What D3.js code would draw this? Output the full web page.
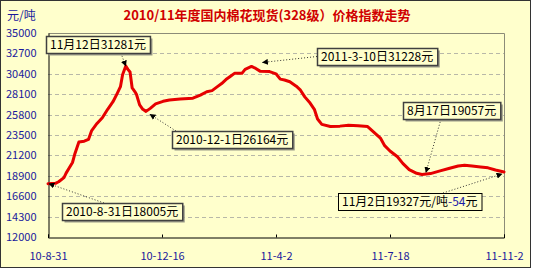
<!DOCTYPE html>
<html>
<head>
<meta charset="utf-8">
<script src="https://cdn.jsdelivr.net/npm/d3@7"></script>
<style>
  body { margin: 0; background: #fff; }
  svg text { font-family: "Noto Sans CJK SC", "DejaVu Sans", sans-serif; }
</style>
</head>
<body>
<div id="chart"></div>
<script>
// cotton spot price index 328, yuan/ton
var dates = ["2010-08-31","2010-09-07","2010-09-10","2010-09-15","2010-09-17","2010-09-20","2010-09-23",
             "2010-09-25","2010-09-27","2010-09-29","2010-10-04","2010-10-08","2010-10-11","2010-10-16",
             "2010-10-21","2010-10-26","2010-10-31","2010-11-04","2010-11-07","2010-11-09","2010-11-12",
             "2010-11-14","2010-11-16","2010-11-18","2010-11-21","2010-11-22","2010-11-25","2010-11-28",
             "2010-12-01","2010-12-05","2010-12-10","2010-12-17","2010-12-23","2011-01-02","2011-01-14",
             "2011-01-21","2011-01-27","2011-02-01","2011-02-06","2011-02-10","2011-02-14","2011-02-18",
             "2011-02-22","2011-03-01","2011-03-04","2011-03-10","2011-03-14","2011-03-18","2011-03-27",
             "2011-04-02","2011-04-06","2011-04-10","2011-04-15","2011-04-21","2011-04-25","2011-04-29",
             "2011-05-04","2011-05-08","2011-05-11","2011-05-15","2011-05-23","2011-06-01","2011-06-09",
             "2011-06-18","2011-06-27","2011-07-03","2011-07-09","2011-07-13","2011-07-18","2011-07-25",
             "2011-07-30","2011-08-05","2011-08-12","2011-08-17","2011-08-25","2011-09-03","2011-09-12",
             "2011-09-20","2011-09-26","2011-10-03","2011-10-11","2011-10-18","2011-10-25","2011-11-02"]

var prices = [18005,18050,18230,18700,19200,19800,20400,
              21300,22000,22700,22800,23000,24000,24800,
              25450,26400,27250,28200,28950,30300,31281,
              30900,30600,28800,28300,28100,26900,26400,
              26164,26500,27000,27300,27450,27550,27650,
              28000,28380,28500,28950,29300,29750,30100,
              30450,30450,30900,31228,31000,30700,30650,
              30400,29800,29700,29500,29000,28550,27800,
              27100,26400,25300,24700,24450,24500,24600,
              24550,24450,23800,23150,22300,21700,21050,
              20300,19600,19180,19057,19150,19450,19750,
              20000,20100,20000,19900,19800,19550,19327]

var yTicks      = [12000,14300,16600,18900,21200,23500,25800,28100,30400,32700,35000]
var xTickDates  = ["2010-08-31","2010-12-16","2011-04-02","2011-07-18","2011-11-02"]
var xTickLabels = ["10-8-31","10-12-16","11-4-2","11-7-18","11-11-2"]

var title = "2010/11年度国内棉花现货(328级）价格指数走势",
    unit  = "元/吨"

// callouts: which point, the text, and where the box sits (px)
var notes = [
  { date: "2010-11-12", parts: [["11月12日31281元","#000"]], box: [46, 36], dx: 0, dy: 0, shadow: true },
  { date: "2011-03-10", parts: [["2011-3-10日31228元","#000"]], box: [317, 48], dx: 11, dy: -4, shadow: true },
  { date: "2010-12-01", parts: [["2010-12-1日26164元","#000"]], box: [172, 131], dx: 4, dy: 3, shadow: true },
  { date: "2010-08-31", parts: [["2010-8-31日18005元","#000"]], box: [62, 203], dx: 1, dy: 0, shadow: true },
  { date: "2011-08-17", parts: [["8月17日19057元","#000"]], box: [403, 102], dx: 4, dy: -2, shadow: true },
  { date: "2011-11-02", parts: [["11月2日19327元/吨","#000"],["-54","#1a1aa8"],["元","#000"]], box: [338, 193], dx: -2, dy: 2, shadow: false }
]

var W = 537, H = 271,
    plot = {left: 48, right: 504, top: 33, bottom: 237},
    bg = "#ffffcc",
    blue = "#1a1a9c"

var parse = d3.timeParse("%Y-%m-%d")
var data = dates.map((d, i) => ({ date: parse(d), value: prices[i] }))

var svg = d3.select("#chart").append("svg")
  .attr("width", W)
  .attr("height", H)

svg.append("rect")
  .attr("x", 0.5).attr("y", 0.5)
  .attr("width", W - 7).attr("height", H - 4)
  .attr("fill", bg)
  .attr("stroke", "#333")

var x = d3.scaleTime()
  .domain([parse(xTickDates[0]), parse(xTickDates[xTickDates.length - 1])])
  .range([plot.left, plot.right])

var y = d3.scaleLinear()
  .domain([yTicks[0], yTicks[yTicks.length - 1]])
  .range([plot.bottom, plot.top])

// grid
svg.append("g")
  .selectAll("line")
  .data(yTicks.slice(1, -1))
  .join("line")
    .attr("x1", plot.left).attr("x2", plot.right)
    .attr("y1", d => Math.round(y(d)) + 0.5).attr("y2", d => Math.round(y(d)) + 0.5)
    .attr("stroke", "#b8b8a8")
    .attr("stroke-dasharray", "4,3")

// top / right frame
svg.append("path")
  .attr("d", "M" + (plot.left + 0.5) + "," + (plot.top + 0.5) + "H" + (plot.right + 0.5) + "V" + (plot.bottom + 0.5))
  .attr("fill", "none")
  .attr("stroke", "#8c8c78")

var yAxis = svg.append("g")
  .attr("transform", "translate(" + (plot.left + 0.5) + ",0)")
  .call(d3.axisLeft(y).tickValues(yTicks).tickSize(0).tickPadding(12).tickFormat(d => d))
yAxis.select(".domain").attr("stroke", "#000")
yAxis.selectAll("text").attr("fill", blue).style("font-size", "11px")

var xAxis = svg.append("g")
  .attr("transform", "translate(0," + (plot.bottom + 0.5) + ")")
  .call(d3.axisBottom(x).tickValues(xTickDates.map(parse)).tickSize(-3).tickPadding(15)
    .tickFormat((d, i) => xTickLabels[i]))
xAxis.select(".domain").attr("stroke", "#000")
xAxis.selectAll("line").attr("stroke", "#000")
xAxis.selectAll("text").attr("fill", blue).style("font-size", "11px")

// price line
var line = d3.line()
  .x(d => x(d.date))
  .y(d => y(d.value))

svg.append("path")
  .datum(data)
  .attr("fill", "none")
  .attr("stroke", "#e60000")
  .attr("stroke-width", 3)
  .attr("stroke-linejoin", "round")
  .attr("stroke-linecap", "round")
  .attr("d", line)

// callouts
svg.append("defs").append("marker")
  .attr("id", "arr")
  .attr("viewBox", "0 0 10 10")
  .attr("refX", 9).attr("refY", 5)
  .attr("markerWidth", 6).attr("markerHeight", 6)
  .attr("markerUnits", "userSpaceOnUse")
  .attr("orient", "auto")
  .append("path")
    .attr("d", "M0,0L10,5L0,10z")
    .attr("fill", "#000")

notes.forEach(n => {
  var pt = data.find(d => +d.date == +parse(n.date))
  var tx = x(pt.date) + n.dx, ty = y(pt.value) + n.dy

  var g = svg.append("g")
  var t = g.append("text")
    .attr("x", n.box[0] + 4)
    .attr("y", n.box[1] + 13)
    .style("font-size", "12px")
  n.parts.forEach(p => t.append("tspan").attr("fill", p[1]).text(p[0]))

  var bw = t.node().getComputedTextLength() + 8, bh = 17
  var bx = n.box[0], by = n.box[1]

  // attach the leader to the nearest box edge point
  var sx = Math.max(bx, Math.min(bx + bw, tx)),
      sy = ty < by ? by : (ty > by + bh ? by + bh : by + bh / 2)
  if (ty >= by && ty <= by + bh) sx = tx < bx ? bx : bx + bw
  if (n.date == "2010-11-12") sx = bx + bw * 0.72
  if (n.date == "2010-12-01") sx = bx + 4
  if (n.date == "2010-08-31") sx = bx + 42
  if (n.date == "2011-08-17") sx = bx + 38
  if (n.date == "2011-11-02") sx = bx + 105

  g.insert("line", "text")
    .attr("x1", sx).attr("y1", sy)
    .attr("x2", tx).attr("y2", ty)
    .attr("stroke", "#333")
    .attr("stroke-dasharray", "1,2")
    .attr("marker-end", "url(#arr)")

  if (n.shadow) {
    g.insert("rect", "text")
      .attr("x", bx + 2.5).attr("y", by + 2.5)
      .attr("width", bw).attr("height", bh)
      .attr("fill", "#9a9a88")
  }
  g.insert("rect", "text")
    .attr("x", bx + 0.5).attr("y", by + 0.5)
    .attr("width", bw).attr("height", bh)
    .attr("fill", bg)
    .attr("stroke", n.shadow ? "#404040" : "#000")
    .attr("stroke-width", n.shadow ? 1.5 : 1)
})

// titles
svg.append("text")
  .attr("x", 267).attr("y", 20)
  .attr("text-anchor", "middle")
  .attr("fill", "#d00000")
  .style("font-size", "13px")
  .style("font-weight", "bold")
  .text(title)

svg.append("text")
  .attr("x", 7).attr("y", 20)
  .attr("fill", blue)
  .style("font-size", "12px")
  .text(unit)
</script>
</body>
</html>
